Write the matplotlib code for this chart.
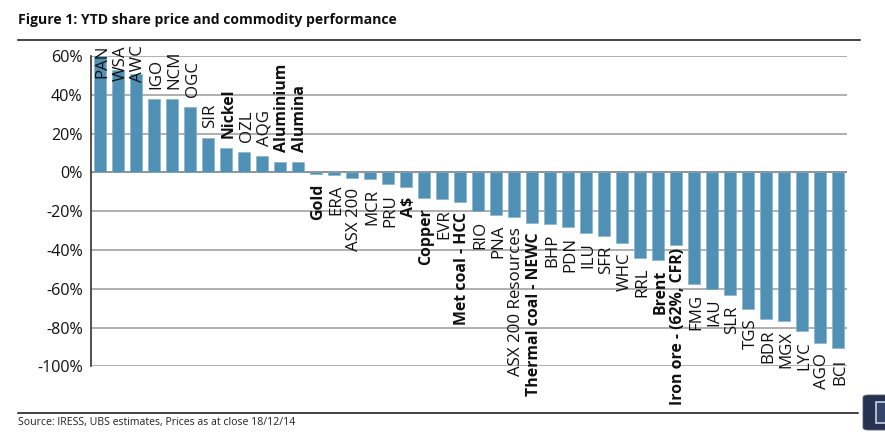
import matplotlib
matplotlib.use("Agg")
import matplotlib.pyplot as plt
from matplotlib.lines import Line2D
from matplotlib.patches import FancyBboxPatch, Rectangle

plt.rcParams['font.family'] = ['Open Sans', 'DejaVu Sans']

labels = ["PAN","WSA","AWC","IGO","NCM","OGC","SIR","Nickel","OZL","AQG","Aluminium","Alumina",
          "Gold","ERA","ASX 200","MCR","PRU","A$","Copper","EVR","Met coal - HCC","RIO","PNA",
          "ASX 200 Resources","Thermal coal - NEWC","BHP","PDN","ILU","SFR","WHC","RRL","Brent",
          "Iron ore - (62%, CFR)","FMG","IAU","SLR","TGS","BDR","MGX","LYC","AGO","BCI"]
values = [60,52.8,50.8,37.9,37.9,33.9,17.6,12.4,10.3,8.3,5.5,5.2,
          -0.7,-1.2,-2.8,-3.4,-6.2,-7.6,-13.1,-13.6,-15.3,-20,-22,
          -23,-26,-26.5,-28,-31,-32.7,-36.3,-44,-45,
          -37.5,-57.3,-59.9,-63.3,-70.2,-75.7,-76.8,-81.8,-87.8,-90.7]
bold = {"Nickel","Aluminium","Alumina","Gold","A$","Copper","Met coal - HCC",
        "Thermal coal - NEWC","Brent","Iron ore - (62%, CFR)"}
clamped_top = {"PAN","WSA","AWC"}
clamped_bottom = {"Iron ore - (62%, CFR)"}
yticks = [60,40,20,0,-20,-40,-60,-80,-100]

W, H = 885, 438
fig = plt.figure(figsize=(W/100, H/100), dpi=100)
ax = fig.add_axes([91/W, 1-366.3/H, (847-91)/W, (366.3-56.1)/H])
ax.set_xlim(-0.5, len(labels)-0.5)
ax.set_ylim(-100, 60)
ax.set_axisbelow(True)
ax.grid(axis='y', color='#9a9a9a', lw=1.1)
ax.bar(range(len(values)), values, width=0.667, color='#4f90b4', edgecolor='#7fb0cc', lw=0.4, clip_on=False, zorder=2)
ax.axhline(0, color='#8a8a8a', lw=1.1, zorder=1)
for s in ['top','right','bottom']:
    ax.spines[s].set_visible(False)
ax.spines['left'].set_color('#333333')
ax.spines['left'].set_linewidth(1.2)
ax.set_xticks([])
ax.set_yticks(yticks)
ax.set_yticklabels([f"{t}%" for t in yticks], fontsize=11.6, color='#111111')
ax.tick_params(axis='y', length=0, pad=6)

dx = 2.5
for i, (lab, v) in enumerate(zip(labels, values)):
    isb = lab in bold
    kw = dict(rotation=90, ha='center', fontsize=11.4 if isb else 12.2, fontweight='bold' if isb else 'normal',
              color='#111111', textcoords='offset pixels', xycoords=('data','data'), zorder=3,
              annotation_clip=False)
    if lab in clamped_top:
        ax.annotate(lab, (i, 60), xytext=(dx, 11), va='top', **kw)
    elif lab in clamped_bottom:
        ax.annotate(lab, (i, -100), xytext=(dx, -39), va='bottom', **kw)
    elif v >= 0:
        ax.annotate(lab, (i, v), xytext=(dx, 10), va='bottom', **kw)
    else:
        ax.annotate(lab, (i, v), xytext=(dx, -10), va='top', **kw)

fig.text(18/W, 1-20/H, "Figure 1: YTD share price and commodity performance", fontsize=10.1, fontweight='bold',
         va='center', ha='left', color='#111111')
fig.text(18/W, 1-423/H, "Source: IRESS, UBS estimates, Prices as at close 18/12/14", fontsize=7.6,
         va='center', ha='left', color='#222222')
fig.add_artist(Line2D([18/W, 860/W], [1-39.5/H]*2, color='#111111', lw=1.1))
fig.add_artist(Line2D([18/W, 858/W], [1-412.5/H]*2, color='#111111', lw=1.1))

# viewer button in the bottom-right corner of the screenshot
fig.add_artist(FancyBboxPatch((863/W, 1-430/H), 30/W, 35/H, boxstyle="round,pad=0,rounding_size=0.006",
                              transform=fig.transFigure, fc='#26324f', ec='#555f75', lw=0.6))
fig.add_artist(Rectangle((876/W, 1-423/H), 12/W, 21/H, transform=fig.transFigure,
                         fc='#34456b', ec='#c8d2e6', lw=1.2))

fig.savefig("out.png", dpi=100)
